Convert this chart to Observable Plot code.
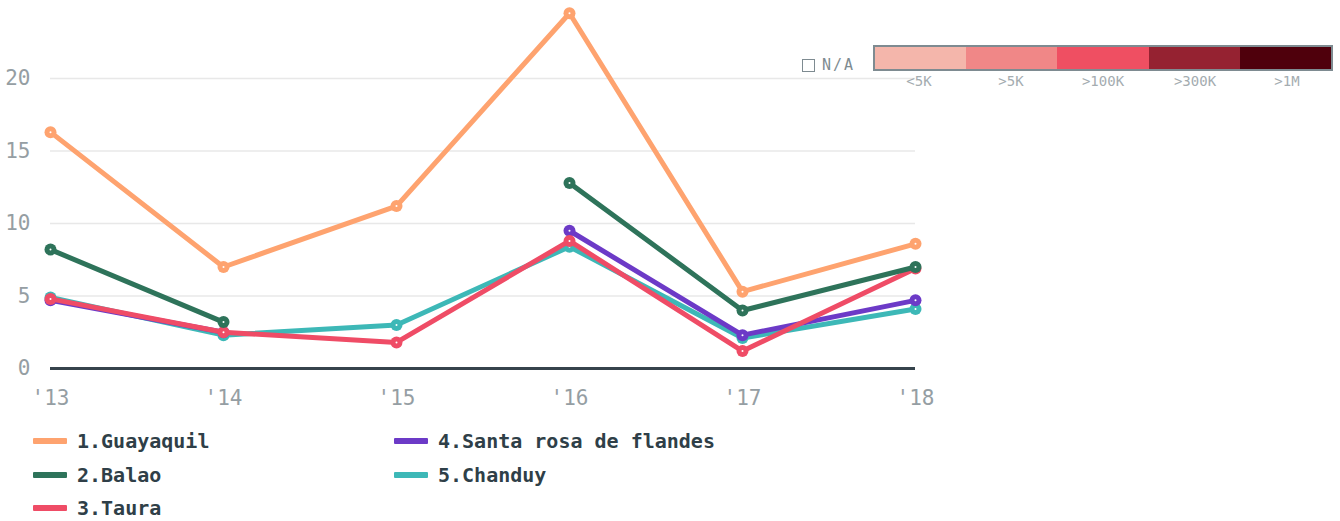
<!DOCTYPE html>
<html>
<head>
<meta charset="utf-8">
<script src="https://cdn.jsdelivr.net/npm/d3@7"></script>
<script src="https://cdn.jsdelivr.net/npm/@observablehq/plot@0.6"></script>
<style>
  body { margin: 0; background: #fff; }
  #wrap { position: relative; width: 1340px; height: 521px; overflow: hidden; font-family: "DejaVu Sans Mono", monospace; }
  #chart { position: absolute; left: 0; top: 0; }
  .lg { position: absolute; display: flex; align-items: center; font-weight: bold; font-size: 20px; color: #2f3f48; white-space: nowrap; }
  .lg .sw { width: 34px; height: 6px; margin-right: 10px; border-radius: 1px; }
  #scale { position: absolute; left: 873px; top: 45px; display: flex; border: 2px solid #7e8b91; }
  #scale div { width: 91.2px; height: 22px; }
  .sl { position: absolute; top: 73px; font-size: 14px; color: #a4acb0; transform: translateX(-50%); font-family: "DejaVu Sans Mono", monospace; }
  #na { position: absolute; left: 802px; top: 56px; display: flex; align-items: center; font-size: 15px; color: #7e8b91; letter-spacing: 2px; }
  #na .bx { width: 11px; height: 11px; border: 1.6px solid #7e8b91; margin-right: 7px; }
</style>
</head>
<body>
<div id="wrap">
  <div id="chart"></div>
</div>
<script>
const years = [2013, 2014, 2015, 2016, 2017, 2018];
const seriesNames = ["1.Guayaquil", "2.Balao", "3.Taura", "4.Santa rosa de flandes", "5.Chanduy"];
const seriesColors = ["#fea36f", "#2e735a", "#ef4c66", "#6c3ac7", "#3db8b7"];
const guayaquil = [16.3, 7.0, 11.2, 24.5, 5.3, 8.6];
const balao = [8.2, 3.2, null, 12.8, 4.0, 7.0];
const taura = [4.8, 2.5, 1.8, 8.8, 1.2, 6.9];
const santaRosa = [4.7, 2.5, null, 9.5, 2.3, 4.7];
const chanduy = [4.9, 2.3, 3.0, 8.4, 2.1, 4.1];
const yTicks = [0, 5, 10, 15, 20];
const scaleLabels = ["<5K", ">5K", ">100K", ">300K", ">1M"];
const scaleColors = ["#f4b6ab", "#f08787", "#ef4f62", "#952231", "#4f000c"];

const valuesByName = {
  "1.Guayaquil": guayaquil,
  "2.Balao": balao,
  "3.Taura": taura,
  "4.Santa rosa de flandes": santaRosa,
  "5.Chanduy": chanduy
};
// draw order: last legend entry at the bottom, first on top
const drawOrder = seriesNames.slice().reverse();
const rows = [];
for (const name of drawOrder) {
  valuesByName[name].forEach((v, i) => rows.push({series: name, year: years[i], value: v}));
}
const pts = rows.filter(d => d.value != null);

const chart = Plot.plot({
  width: 1340,
  height: 420,
  marginLeft: 50,
  marginRight: 425,
  marginTop: 12,
  marginBottom: 52,
  style: {fontFamily: "DejaVu Sans Mono, monospace", background: "transparent"},
  x: {domain: [2013, 2018], ticks: years, tickFormat: d => "'" + String(d).slice(2), tickSize: 0, tickPadding: 22, label: null},
  y: {domain: [0, 24.55], ticks: yTicks, tickSize: 0, tickPadding: 20, label: null},
  color: {domain: seriesNames, range: seriesColors},
  marks: [
    Plot.gridY(yTicks.filter(t => t > 0), {stroke: "#e8e8e8", strokeOpacity: 1, strokeWidth: 1.5}),
    Plot.ruleY([0], {stroke: "#36434c", strokeWidth: 3}),
    Plot.axisX({ticks: years, tickFormat: d => "'" + String(d).slice(2), tickSize: 0, tickPadding: 22, fontSize: 21, fill: "#959ea3", label: null}),
    Plot.axisY({ticks: yTicks, tickSize: 0, tickPadding: 20, fontSize: 21, fill: "#959ea3", label: null}),
    ...drawOrder.flatMap(name => [
      Plot.line(rows.filter(d => d.series === name), {x: "year", y: "value", stroke: "series", strokeWidth: 5, strokeLinejoin: "round", curve: "linear"}),
      Plot.dot(pts.filter(d => d.series === name), {x: "year", y: "value", fill: "series", r: 6}),
      Plot.dot(pts.filter(d => d.series === name), {x: "year", y: "value", fill: "white", r: 1})
    ])
  ]
});
document.getElementById("chart").appendChild(chart);

const wrap = document.getElementById("wrap");
// bottom legend
const legendPos = [[33, 442], [33, 476], [33, 509], [394, 442], [394, 476]];
seriesNames.forEach((name, i) => {
  const el = document.createElement("div");
  el.className = "lg";
  el.style.left = legendPos[i][0] + "px";
  el.style.top = (legendPos[i][1] - 13) + "px";
  el.innerHTML = `<div class="sw" style="background:${seriesColors[i]}"></div><span>${name}</span>`;
  wrap.appendChild(el);
});
// top-right scale legend
const na = document.createElement("div");
na.id = "na";
na.innerHTML = `<div class="bx"></div><span>N/A</span>`;
wrap.appendChild(na);
const sc = document.createElement("div");
sc.id = "scale";
scaleColors.forEach(c => { const d = document.createElement("div"); d.style.background = c; sc.appendChild(d); });
wrap.appendChild(sc);
scaleLabels.forEach((t, i) => {
  const s = document.createElement("div");
  s.className = "sl";
  s.style.left = (919 + i * 92) + "px";
  s.textContent = t;
  wrap.appendChild(s);
});
</script>
</body>
</html>
